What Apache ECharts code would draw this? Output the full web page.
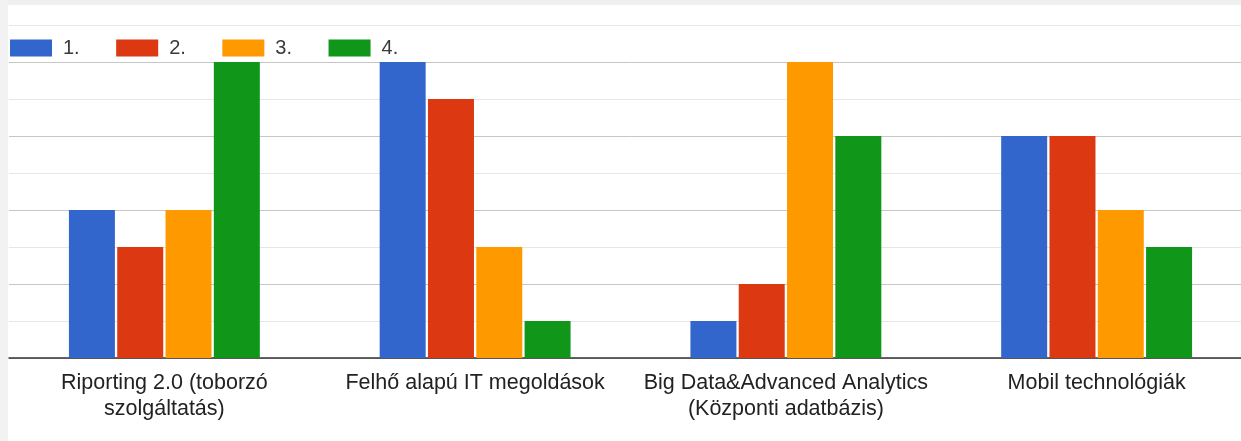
<!DOCTYPE html>
<html>
<head>
<meta charset="utf-8">
<script src="https://cdn.jsdelivr.net/npm/echarts@6/dist/echarts.min.js"></script>
<style>
  html, body { margin: 0; padding: 0; background: #fff; overflow: hidden; }
  #chart { width: 1260px; height: 441px; }
</style>
</head>
<body>
<div id="chart"></div>
<script>
// Categories and the four ranking series
const categories = [
  'Riporting 2.0 (toborzó\nszolgáltatás)',
  'Felhő alapú IT megoldások',
  'Big Data&Advanced Analytics\n(Központi adatbázis)',
  'Mobil technológiák'
];
const seriesNames = ['1.', '2.', '3.', '4.'];
const rank1 = [4, 8, 1, 6];
const rank2 = [3, 7, 2, 6];
const rank3 = [4, 3, 8, 4];
const rank4 = [8, 1, 6, 3];
const colors = ['#3366cc', '#dc3912', '#ff9900', '#109618'];

const values = [rank1, rank2, rank3, rank4];

const chart = echarts.init(document.getElementById('chart'), null, { renderer: 'canvas' });

chart.setOption({
  animation: false,
  backgroundColor: '#ffffff',
  color: colors,
  graphic: [
    { type: 'rect', left: 0, top: 0, shape: { width: 1260, height: 5 }, style: { fill: '#efefef' }, z: 100 },
    { type: 'rect', left: 0, top: 0, shape: { width: 8, height: 441 }, style: { fill: '#f2f2f2' }, z: 100 }
  ],
  legend: {
    left: 5,
    top: 33,
    icon: 'rect',
    itemWidth: 42,
    itemHeight: 17,
    itemGap: 36.5,
    data: seriesNames,
    textStyle: {
      fontFamily: 'Liberation Sans, Arial, sans-serif',
      fontSize: 20,
      color: '#3a3a3a',
      padding: [0, 0, 0, 6],
      lineHeight: 17
    }
  },
  grid: {
    left: 9,
    top: 25,
    width: 1243,
    bottom: 83,
    containLabel: false
  },
  xAxis: {
    type: 'category',
    data: categories,
    axisTick: { show: false },
    axisLine: { show: true, lineStyle: { color: '#333', width: 1.5 } },
    axisLabel: {
      interval: 0,
      margin: 12,
      fontFamily: 'Liberation Sans, Arial, sans-serif',
      fontSize: 21.5,
      lineHeight: 26,
      color: '#222'
    }
  },
  yAxis: {
    type: 'value',
    min: 0,
    max: 9,
    interval: 1,
    axisLabel: { show: false },
    axisLine: { show: false },
    axisTick: { show: false },
    splitLine: {
      show: true,
      lineStyle: { color: ['#c6c6c6', '#e6e6e6'], width: 1 }
    }
  },
  series: seriesNames.map((name, i) => ({
    name: name,
    type: 'bar',
    data: values[i],
    barWidth: 46,
    barGap: '5%',
    itemStyle: { color: colors[i] }
  }))
});
</script>
</body>
</html>
